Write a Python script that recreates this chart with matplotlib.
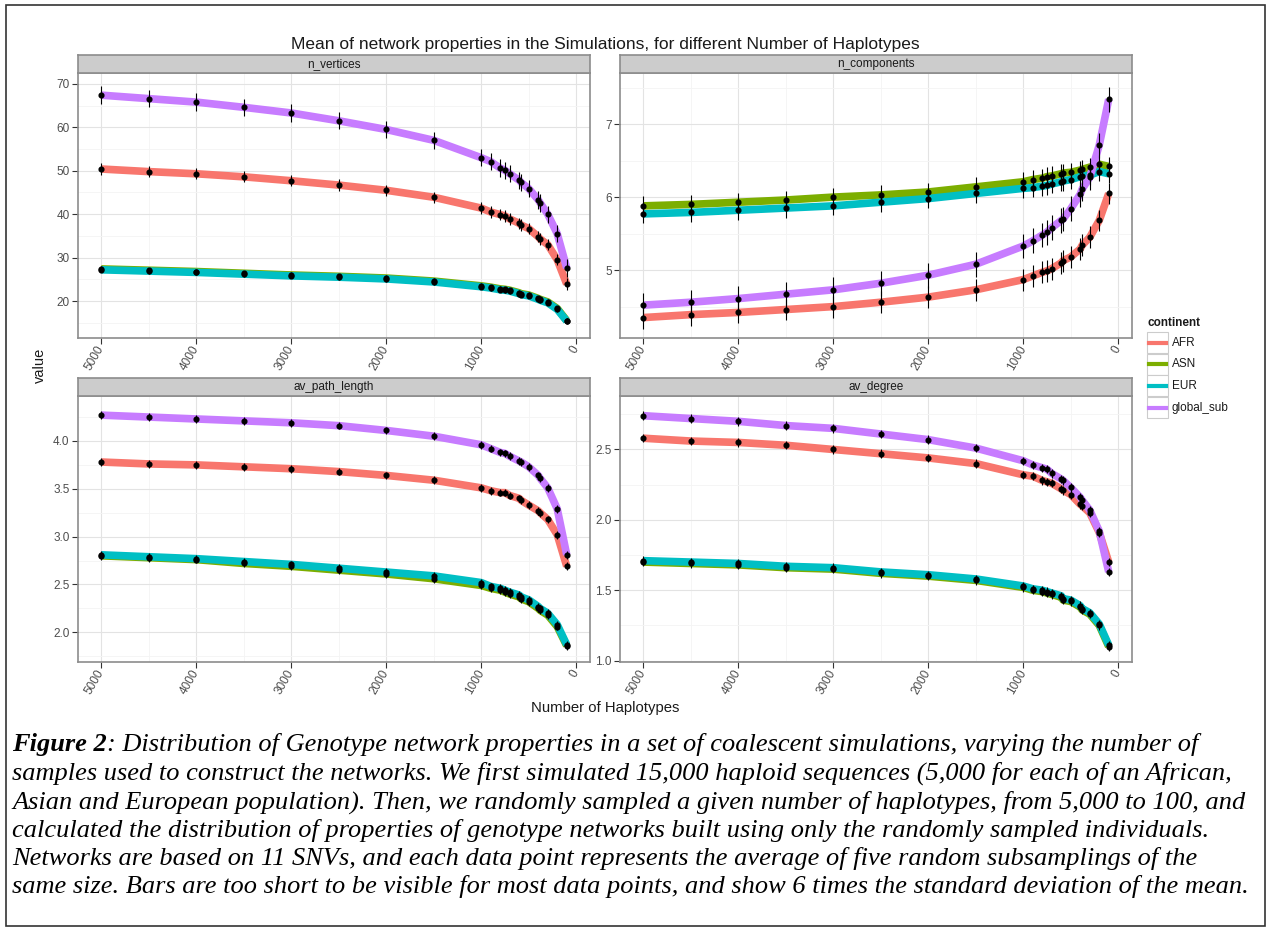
import matplotlib
matplotlib.use("Agg")
import matplotlib.pyplot as plt
import numpy as np
from matplotlib.patches import Rectangle
from matplotlib.lines import Line2D

W, H = 1268, 927

n_haplotypes = [5000, 4500, 4000, 3500, 3000, 2500, 2000, 1500, 1000, 900, 800,
                750, 700, 600, 580, 500, 400, 380, 300, 200, 100]

continents = ["AFR", "ASN", "EUR", "global_sub"]
colors = {"AFR": "#F8766D", "ASN": "#7CAE00", "EUR": "#00BFC4", "global_sub": "#C77CFF"}

n_vertices = {
    "AFR": [50.4, 49.8, 49.3, 48.6, 47.7, 46.7, 45.5, 43.9, 41.4, 40.5, 39.9,
            39.6, 38.9, 37.9, 37.5, 36.7, 34.8, 34.3, 33.0, 29.5, 23.9],
    "ASN": [27.4, 27.1, 26.8, 26.4, 26.0, 25.7, 25.3, 24.6, 23.5, 23.2, 22.8,
            22.7, 22.5, 21.9, 21.7, 21.4, 20.6, 20.4, 19.8, 18.3, 15.5],
    "EUR": [27.2, 26.9, 26.6, 26.2, 25.8, 25.5, 25.1, 24.4, 23.3, 23.0, 22.6,
            22.5, 22.3, 21.7, 21.5, 21.2, 20.4, 20.2, 19.6, 18.1, 15.4],
    "global_sub": [67.4, 66.6, 65.8, 64.6, 63.3, 61.5, 59.5, 57.0, 53.0, 52.1, 50.6,
                   50.1, 49.3, 47.8, 47.3, 45.9, 43.3, 42.6, 40.0, 35.5, 27.6],
}
n_components = {
    "AFR": [4.35, 4.39, 4.42, 4.46, 4.50, 4.56, 4.63, 4.73, 4.87, 4.92, 4.97,
            4.99, 5.02, 5.10, 5.13, 5.18, 5.29, 5.34, 5.45, 5.68, 6.05],
    "ASN": [5.88, 5.90, 5.93, 5.96, 6.00, 6.03, 6.07, 6.14, 6.21, 6.24, 6.26,
            6.28, 6.29, 6.32, 6.33, 6.34, 6.37, 6.38, 6.41, 6.45, 6.42],
    "EUR": [5.77, 5.79, 5.82, 5.85, 5.88, 5.93, 5.98, 6.05, 6.12, 6.13, 6.15,
            6.16, 6.18, 6.21, 6.22, 6.24, 6.28, 6.29, 6.30, 6.35, 6.32],
    "global_sub": [4.52, 4.56, 4.61, 4.67, 4.73, 4.82, 4.93, 5.08, 5.33, 5.40, 5.48,
                   5.52, 5.58, 5.68, 5.70, 5.84, 6.04, 6.11, 6.27, 6.71, 7.34],
}
av_path_length = {
    "AFR": [3.78, 3.76, 3.75, 3.73, 3.71, 3.68, 3.64, 3.59, 3.51, 3.48, 3.46,
            3.46, 3.43, 3.40, 3.38, 3.33, 3.27, 3.25, 3.18, 3.02, 2.69],
    "ASN": [2.80, 2.78, 2.76, 2.72, 2.69, 2.65, 2.61, 2.56, 2.49, 2.46, 2.44,
            2.42, 2.40, 2.37, 2.35, 2.32, 2.25, 2.23, 2.18, 2.06, 1.86],
    "EUR": [2.81, 2.79, 2.77, 2.74, 2.71, 2.67, 2.63, 2.59, 2.52, 2.48, 2.46,
            2.44, 2.42, 2.39, 2.37, 2.34, 2.27, 2.25, 2.20, 2.08, 1.87],
    "global_sub": [4.27, 4.25, 4.23, 4.21, 4.19, 4.16, 4.11, 4.05, 3.96, 3.92, 3.88,
                   3.87, 3.84, 3.79, 3.78, 3.73, 3.64, 3.61, 3.51, 3.29, 2.81],
}
av_degree = {
    "AFR": [2.58, 2.56, 2.55, 2.53, 2.50, 2.47, 2.44, 2.40, 2.32, 2.31, 2.28,
            2.27, 2.26, 2.22, 2.21, 2.18, 2.11, 2.10, 2.05, 1.91, 1.70],
    "ASN": [1.70, 1.69, 1.68, 1.66, 1.65, 1.62, 1.60, 1.57, 1.52, 1.50, 1.49,
            1.48, 1.47, 1.45, 1.43, 1.42, 1.38, 1.36, 1.33, 1.25, 1.10],
    "EUR": [1.71, 1.70, 1.69, 1.67, 1.66, 1.63, 1.61, 1.58, 1.53, 1.51, 1.50,
            1.49, 1.48, 1.46, 1.44, 1.43, 1.39, 1.37, 1.34, 1.26, 1.11],
    "global_sub": [2.74, 2.72, 2.70, 2.67, 2.65, 2.61, 2.57, 2.51, 2.42, 2.39, 2.37,
                   2.36, 2.33, 2.29, 2.28, 2.23, 2.16, 2.14, 2.07, 1.92, 1.63],
}

# half length of the error bars (3 sd of the mean) per facet and continent
err_vertices = {"AFR": 1.3, "ASN": 0.6, "EUR": 0.6, "global_sub": 2.0}
err_components = {"AFR": 0.15, "ASN": 0.13, "EUR": 0.13, "global_sub": 0.17}
err_path = {"AFR": 0.04, "ASN": 0.04, "EUR": 0.04, "global_sub": 0.04}
err_degree = {"AFR": 0.03, "ASN": 0.03, "EUR": 0.03, "global_sub": 0.03}

x_ticks = [5000, 4000, 3000, 2000, 1000, 0]

caption = [
    "samples used to construct the networks. We first simulated 15,000 haploid sequences (5,000 for each of an African,",
    "Asian and European population). Then, we randomly sampled a given number of haplotypes, from 5,000 to 100, and",
    "calculated the distribution of properties of genotype networks built using only the randomly sampled individuals.",
    "Networks are based on 11 SNVs, and each data point represents the average of five random subsamplings of the",
    "same size. Bars are too short to be visible for most data points, and show 6 times the standard deviation of the mean.",
]

plt.rcParams['font.family'] = ['Liberation Sans', 'DejaVu Sans']

fig = plt.figure(figsize=(W / 100, H / 100), dpi=100)


def rect(x0, y0, x1, y1):
    return [x0 / W, 1 - y1 / H, (x1 - x0) / W, (y1 - y0) / H]


facets = [
    ("n_vertices", n_vertices, err_vertices, (11.5, 72.5), [20, 30, 40, 50, 60, 70],
     "{:.0f}", (78, 55, 590, 73, 338)),
    ("n_components", n_components, err_components, (4.07, 7.70), [5, 6, 7],
     "{:.0f}", (620, 55, 1132, 73, 338)),
    ("av_path_length", av_path_length, err_path, (1.69, 4.47), [2.0, 2.5, 3.0, 3.5, 4.0],
     "{:.1f}", (78, 378, 590, 396, 662)),
    ("av_degree", av_degree, err_degree, (0.99, 2.88), [1.0, 1.5, 2.0, 2.5],
     "{:.1f}", (620, 378, 1132, 396, 662)),
]

x = np.array(n_haplotypes)
for name, data, errs, ylim, yticks, fmt, (x0, sy, x1, y0, y1) in facets:
    ax = fig.add_axes(rect(x0, y0, x1, y1))
    ax.set_xticks(x_ticks)
    ax.set_xticks([4500, 3500, 2500, 1500, 500], minor=True)
    ax.set_xticklabels([str(t) for t in x_ticks], rotation=60, ha='right', va='center',
                       rotation_mode='anchor')
    ax.set_yticks(yticks)
    ystep = yticks[1] - yticks[0]
    minor = [t - ystep / 2 for t in yticks] + [yticks[-1] + ystep / 2]
    ax.set_yticks([m for m in minor if ylim[0] < m < ylim[1]], minor=True)
    ax.set_yticklabels([fmt.format(t) for t in yticks])
    ax.set_xlim(5245, -145)
    ax.set_ylim(*ylim)
    ax.grid(which='major', color='#E3E3E3', lw=0.8)
    ax.grid(which='minor', color='#F4F4F4', lw=0.6)
    ax.set_axisbelow(True)
    ax.tick_params(which='major', length=4, width=0.8, color='#333333',
                   labelsize=8.5, labelcolor='#4D4D4D', pad=2)
    ax.tick_params(which='minor', length=0)
    for sp in ax.spines.values():
        sp.set_color('#8C8C8C')
        sp.set_linewidth(1.2)

    for c in continents:
        ax.plot(x, data[c], color=colors[c], lw=5.5, solid_capstyle='butt',
                solid_joinstyle='round', zorder=2)
    for c in continents:
        v = np.array(data[c])
        ax.vlines(x, v - errs[c], v + errs[c], color='black', lw=0.8, zorder=3)
    for c in continents:
        ax.plot(x, data[c], 'o', color='black', ms=3.4, zorder=4)

    sax = fig.add_axes(rect(x0, sy, x1, y0))
    sax.set_facecolor('#CCCCCC')
    sax.set_xticks([])
    sax.set_yticks([])
    for sp in sax.spines.values():
        sp.set_color('#8C8C8C')
        sp.set_linewidth(1.2)
    sax.text(0.5, 0.5, name, ha='center', va='center', fontsize=8.5, color='#1A1A1A',
             transform=sax.transAxes)

fig.text(605 / W, 1 - 45 / H,
         "Mean of network properties in the Simulations, for different Number of Haplotypes",
         ha='center', va='center', fontsize=12.5, color='#1A1A1A')
fig.text(40 / W, 1 - 365 / H, "value", rotation=90, ha='center', va='center',
         fontsize=10.5, color='#1A1A1A')
fig.text(605 / W, 1 - 708 / H, "Number of Haplotypes", ha='center', va='center',
         fontsize=10.7, color='#1A1A1A')

# legend
fig.text(1147 / W, 1 - 323 / H, "continent", ha='left', va='center', fontsize=8.5,
         fontweight='bold', color='#1A1A1A')
for i, c in enumerate(continents):
    yc = [342.5, 364, 386, 407.5][i]
    fig.patches.append(Rectangle((1147 / W, 1 - (yc + 10.5) / H), 21 / W, 21 / H,
                                 transform=fig.transFigure, fc='white', ec='#CCCCCC', lw=0.8))
    fig.lines.append(Line2D([1149 / W, 1166 / W], [1 - yc / H, 1 - yc / H],
                            transform=fig.transFigure, color=colors[c], lw=3))
    fig.text(1172 / W, 1 - yc / H, c, ha='left', va='center', fontsize=8.5, color='#1A1A1A')

# border around the figure
fig.patches.append(Rectangle((6 / W, 1 - 926 / H), 1259 / W, 921 / H, transform=fig.transFigure,
                             fill=False, ec='#333333', lw=1.2))

# caption
cap_size = 19
renderer = fig.canvas.get_renderer()
t0 = fig.text(12 / W, 1 - 745 / H, "Figure 2", ha='left', va='center', fontsize=cap_size,
              family='Liberation Serif', style='italic', fontweight='bold')
bb = t0.get_window_extent(renderer=renderer)
fig.text(bb.x1 / W, 1 - 745 / H,
         ": Distribution of Genotype network properties in a set of coalescent simulations, varying the number of",
         ha='left', va='center', fontsize=cap_size, family='Liberation Serif', style='italic')
for i, line in enumerate(caption):
    fig.text(12 / W, 1 - (745 + 28.4 * (i + 1)) / H, line, ha='left', va='center',
             fontsize=cap_size, family='Liberation Serif', style='italic')

fig.savefig("out.png", dpi=100)
